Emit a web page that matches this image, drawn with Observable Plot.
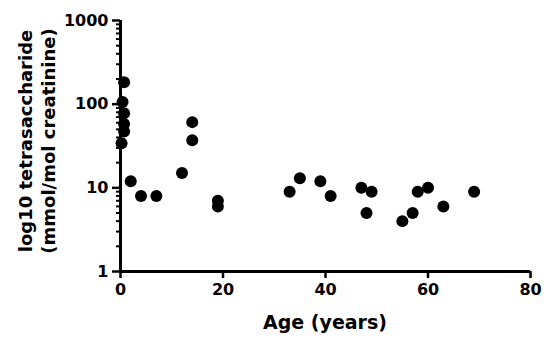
<!DOCTYPE html>
<html>
<head>
<meta charset="utf-8">
<script src="https://cdn.jsdelivr.net/npm/d3@7"></script>
<script src="https://cdn.jsdelivr.net/npm/@observablehq/plot@0.6"></script>
<style>
  html, body { margin: 0; padding: 0; background: #fff; }
  #chart svg { display: block; }
</style>
</head>
<body>
<div id="chart"></div>
<script>
// Data
const ages = [0.7, 0.4, 0.7, 0.7, 0.7, 0.2, 2, 4, 7, 12, 14, 14, 19, 19, 33, 35, 39, 41, 47, 49, 48, 55, 57, 58, 60, 63, 69];
const tetrasaccharide = [183, 106, 78, 58, 47, 34, 12, 8, 8, 15, 61, 37, 7, 6, 9, 13, 12, 8, 10, 9, 5, 4, 5, 9, 10, 6, 9];
const xTicks = [0, 20, 40, 60, 80];
const yTicks = [1, 10, 100, 1000];
const yMinorTicks = [2,3,4,5,6,7,8,9,20,30,40,50,60,70,80,90,200,300,400,500,600,700,800,900];
const xTitle = "Age (years)";
const yTitleLines = ["log10 tetrasaccharide", "(mmol/mol creatinine)"];

const data = ages.map((a, i) => ({age: a, value: tetrasaccharide[i]}));

const W = 550, H = 347, ML = 120, MR = 20, MT = 20, MB = 76;

const plot = Plot.plot({
  width: W,
  height: H,
  marginLeft: ML,
  marginRight: MR,
  marginTop: MT,
  marginBottom: MB,
  style: {fontFamily: "DejaVu Sans", fontWeight: "bold", color: "#000", background: "#fff"},
  x: {domain: [0, 80], label: null},
  y: {type: "log", domain: [1, 1000], label: null},
  marks: [
    Plot.axisY({ticks: yMinorTicks, tickSize: 4, strokeWidth: 2, text: null, label: null}),
    Plot.axisY({ticks: yTicks, tickSize: 8, tickPadding: 4, strokeWidth: 2.5, tickFormat: d => String(d), fontSize: 16, label: null}),
    Plot.axisX({ticks: xTicks, tickSize: 7, tickPadding: 5, strokeWidth: 2.5, tickFormat: d => String(d), fontSize: 16, label: null}),
    Plot.ruleX([0], {strokeWidth: 3}),
    Plot.ruleY([1], {strokeWidth: 3}),
    Plot.dot(data, {x: "age", y: "value", r: 6, fill: "#000", stroke: null})
  ]
});

const svg = d3.select(plot);
svg.append("text")
  .attr("x", (ML + W - MR) / 2)
  .attr("y", 329)
  .attr("text-anchor", "middle")
  .attr("font-family", "DejaVu Sans")
  .attr("font-weight", "bold")
  .attr("font-size", 19)
  .attr("fill", "#000")
  .text(xTitle);

const yt = svg.append("text")
  .attr("transform", "translate(0,141) rotate(-90)")
  .attr("text-anchor", "middle")
  .attr("font-family", "DejaVu Sans")
  .attr("font-weight", "bold")
  .attr("font-size", 18)
  .attr("fill", "#000");
yTitleLines.forEach((line, i) => {
  yt.append("tspan").attr("x", 0).attr("y", 32 + i * 23).text(line);
});

document.getElementById("chart").appendChild(plot);
</script>
</body>
</html>
